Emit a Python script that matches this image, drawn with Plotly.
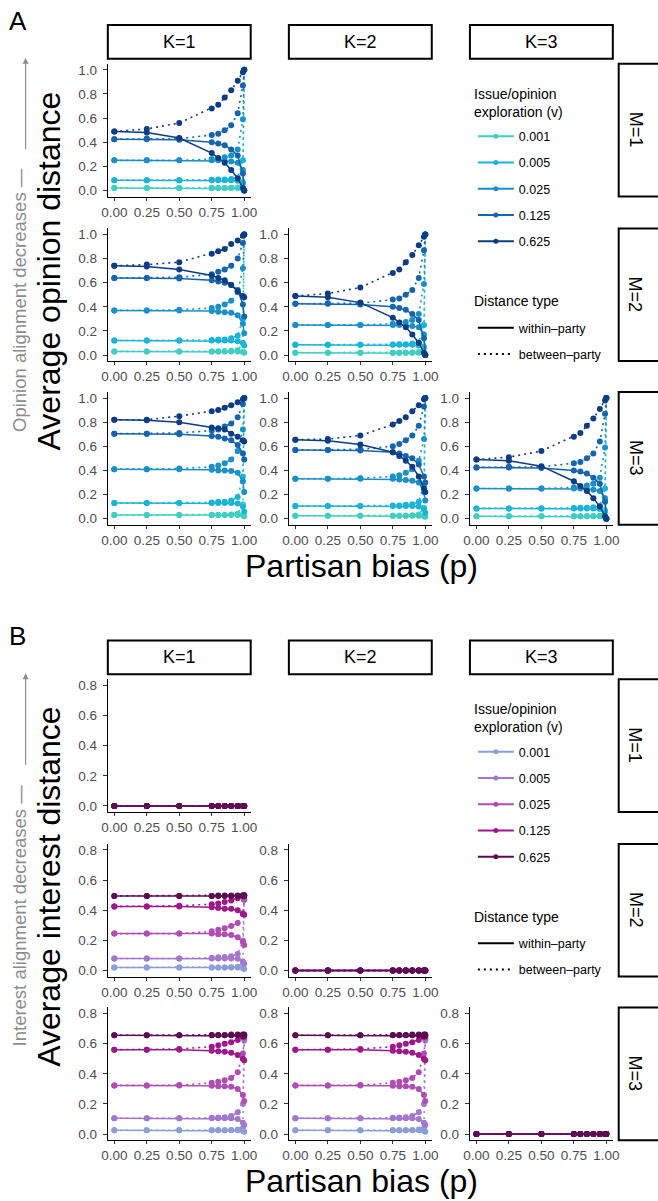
import plotly.graph_objects as go

W, H = 658, 1201

# ---------------- data ----------------
P = [0, 0.25, 0.5, 0.75, 0.8, 0.85, 0.9, 0.95, 0.99, 1.0]
V_LABELS = ["0.001", "0.005", "0.025", "0.125", "0.625"]
COLORS_A = ["#3FCFC2", "#19B5D9", "#1A90C8", "#1564AE", "#0B3C84"]
COLORS_B = ["#8C9ED6", "#A277CD", "#B04DB2", "#A0168C", "#5C0C50"]
X_TICKS = [0, 0.25, 0.5, 0.75, 1.0]
X_TICKTEXT = ["0.00", "0.25", "0.50", "0.75", "1.00"]
Y_TICKS_A = [0, 0.2, 0.4, 0.6, 0.8, 1.0]
Y_TICKTEXT_A = ["0.0", "0.2", "0.4", "0.6", "0.8", "1.0"]
Y_TICKS_B = [0, 0.2, 0.4, 0.6, 0.8]
Y_TICKTEXT_B = ["0.0", "0.2", "0.4", "0.6", "0.8"]

# Panel A: average opinion distance (rows: v = 0.001 ... 0.625)
A_K1M1_within = [
    [0.02, 0.02, 0.02, 0.02, 0.02, 0.02, 0.02, 0.02, 0.015, 0.0],
    [0.085, 0.085, 0.085, 0.085, 0.085, 0.085, 0.085, 0.08, 0.06, 0.0],
    [0.25, 0.25, 0.25, 0.25, 0.25, 0.245, 0.24, 0.23, 0.17, 0.0],
    [0.425, 0.425, 0.42, 0.40, 0.39, 0.375, 0.34, 0.29, 0.14, 0.0],
    [0.49, 0.48, 0.435, 0.31, 0.27, 0.23, 0.17, 0.10, 0.02, 0.0],
]
A_K1M1_between = [
    [0.02, 0.02, 0.02, 0.02, 0.02, 0.02, 0.022, 0.025, 0.07, 1.0],
    [0.085, 0.085, 0.085, 0.088, 0.09, 0.09, 0.095, 0.105, 0.25, 1.0],
    [0.25, 0.25, 0.25, 0.26, 0.265, 0.275, 0.29, 0.34, 0.59, 1.0],
    [0.425, 0.43, 0.43, 0.46, 0.47, 0.50, 0.54, 0.64, 0.87, 1.0],
    [0.49, 0.51, 0.56, 0.68, 0.71, 0.77, 0.83, 0.91, 0.98, 1.0],
]
A_K2M2_within = A_K1M1_within
A_K2M2_between = A_K1M1_between
A_K3M3_within = A_K1M1_within
A_K3M3_between = A_K1M1_between

A_K1M2_within = [
    [0.03, 0.03, 0.03, 0.03, 0.03, 0.03, 0.03, 0.03, 0.025, 0.02],
    [0.12, 0.12, 0.12, 0.12, 0.12, 0.12, 0.12, 0.115, 0.10, 0.08],
    [0.37, 0.37, 0.37, 0.365, 0.36, 0.355, 0.35, 0.33, 0.26, 0.18],
    [0.64, 0.64, 0.635, 0.62, 0.61, 0.60, 0.58, 0.54, 0.42, 0.32],
    [0.74, 0.735, 0.71, 0.66, 0.64, 0.62, 0.58, 0.53, 0.49, 0.48],
]
A_K1M2_between = [
    [0.03, 0.03, 0.03, 0.03, 0.03, 0.032, 0.035, 0.04, 0.10, 1.0],
    [0.12, 0.12, 0.12, 0.125, 0.13, 0.13, 0.14, 0.16, 0.30, 1.0],
    [0.37, 0.37, 0.375, 0.39, 0.40, 0.42, 0.45, 0.52, 0.72, 1.0],
    [0.64, 0.64, 0.645, 0.67, 0.69, 0.71, 0.74, 0.80, 0.93, 1.0],
    [0.74, 0.75, 0.77, 0.84, 0.86, 0.88, 0.92, 0.95, 0.99, 1.0],
]

A_K1M3_within = [
    [0.03, 0.03, 0.03, 0.03, 0.03, 0.03, 0.03, 0.03, 0.03, 0.02],
    [0.13, 0.13, 0.13, 0.13, 0.13, 0.13, 0.13, 0.125, 0.10, 0.06],
    [0.41, 0.41, 0.41, 0.405, 0.40, 0.40, 0.395, 0.38, 0.31, 0.22],
    [0.705, 0.705, 0.70, 0.685, 0.68, 0.665, 0.65, 0.61, 0.54, 0.49],
    [0.82, 0.815, 0.80, 0.755, 0.75, 0.74, 0.705, 0.68, 0.65, 0.64],
]
A_K1M3_between = [
    [0.03, 0.03, 0.03, 0.03, 0.03, 0.03, 0.035, 0.04, 0.12, 1.0],
    [0.13, 0.13, 0.13, 0.135, 0.14, 0.14, 0.15, 0.18, 0.35, 1.0],
    [0.41, 0.41, 0.415, 0.43, 0.44, 0.46, 0.49, 0.56, 0.74, 1.0],
    [0.705, 0.705, 0.71, 0.73, 0.74, 0.765, 0.79, 0.84, 0.95, 1.0],
    [0.82, 0.82, 0.85, 0.89, 0.90, 0.92, 0.94, 0.965, 0.99, 1.0],
]

A_K2M3_within = [
    [0.025, 0.025, 0.025, 0.025, 0.025, 0.025, 0.025, 0.025, 0.02, 0.015],
    [0.105, 0.105, 0.105, 0.105, 0.105, 0.105, 0.105, 0.10, 0.08, 0.05],
    [0.33, 0.33, 0.33, 0.33, 0.325, 0.32, 0.315, 0.30, 0.22, 0.15],
    [0.57, 0.57, 0.565, 0.55, 0.54, 0.52, 0.50, 0.45, 0.35, 0.30],
    [0.655, 0.645, 0.615, 0.55, 0.52, 0.48, 0.43, 0.35, 0.25, 0.22],
]
A_K2M3_between = [
    [0.025, 0.025, 0.025, 0.025, 0.025, 0.025, 0.028, 0.035, 0.09, 1.0],
    [0.105, 0.105, 0.105, 0.11, 0.11, 0.115, 0.12, 0.14, 0.28, 1.0],
    [0.33, 0.33, 0.335, 0.35, 0.36, 0.38, 0.41, 0.48, 0.66, 1.0],
    [0.57, 0.57, 0.575, 0.60, 0.62, 0.65, 0.69, 0.77, 0.93, 1.0],
    [0.655, 0.66, 0.69, 0.78, 0.81, 0.84, 0.89, 0.94, 0.99, 1.0],
]

# Panel B: average interest distance
ZERO = [0, 0, 0, 0, 0, 0, 0, 0, 0, 0]
B_K1M1_within = [ZERO, ZERO, ZERO, ZERO, ZERO]
B_K1M1_between = [ZERO, ZERO, ZERO, ZERO, ZERO]
B_K2M2_within = [ZERO, ZERO, ZERO, ZERO, ZERO]
B_K2M2_between = [ZERO, ZERO, ZERO, ZERO, ZERO]
B_K3M3_within = [ZERO, ZERO, ZERO, ZERO, ZERO]
B_K3M3_between = [ZERO, ZERO, ZERO, ZERO, ZERO]

B_K1M2_within = [
    [0.02, 0.02, 0.02, 0.02, 0.02, 0.02, 0.02, 0.02, 0.015, 0.01],
    [0.08, 0.08, 0.08, 0.08, 0.08, 0.08, 0.08, 0.078, 0.06, 0.045],
    [0.245, 0.245, 0.245, 0.245, 0.24, 0.24, 0.235, 0.22, 0.19, 0.17],
    [0.425, 0.425, 0.425, 0.42, 0.415, 0.41, 0.41, 0.40, 0.375, 0.37],
    [0.495, 0.495, 0.495, 0.495, 0.495, 0.495, 0.495, 0.495, 0.495, 0.495],
]
B_K1M2_between = [
    [0.02, 0.02, 0.02, 0.02, 0.02, 0.02, 0.022, 0.025, 0.05, 0.47],
    [0.08, 0.08, 0.08, 0.085, 0.088, 0.09, 0.095, 0.11, 0.20, 0.48],
    [0.245, 0.245, 0.245, 0.26, 0.27, 0.28, 0.295, 0.315, 0.38, 0.47],
    [0.425, 0.425, 0.43, 0.44, 0.445, 0.455, 0.465, 0.48, 0.495, 0.50],
    [0.495, 0.495, 0.495, 0.495, 0.497, 0.497, 0.498, 0.498, 0.50, 0.50],
]

B_K1M3_within = [
    [0.025, 0.025, 0.025, 0.025, 0.025, 0.025, 0.025, 0.025, 0.02, 0.015],
    [0.105, 0.105, 0.105, 0.105, 0.105, 0.105, 0.105, 0.10, 0.075, 0.06],
    [0.323, 0.323, 0.323, 0.32, 0.318, 0.318, 0.315, 0.30, 0.26, 0.22],
    [0.56, 0.56, 0.56, 0.553, 0.55, 0.546, 0.54, 0.524, 0.50, 0.49],
    [0.655, 0.655, 0.655, 0.655, 0.655, 0.655, 0.655, 0.655, 0.65, 0.65],
]
B_K1M3_between = [
    [0.025, 0.025, 0.025, 0.025, 0.025, 0.025, 0.027, 0.03, 0.04, 0.62],
    [0.105, 0.105, 0.105, 0.108, 0.11, 0.112, 0.12, 0.145, 0.20, 0.63],
    [0.323, 0.323, 0.325, 0.34, 0.347, 0.358, 0.373, 0.41, 0.535, 0.64],
    [0.56, 0.56, 0.565, 0.58, 0.59, 0.60, 0.61, 0.625, 0.645, 0.655],
    [0.655, 0.655, 0.656, 0.657, 0.658, 0.658, 0.66, 0.66, 0.66, 0.66],
]
B_K2M3_within = B_K1M3_within
B_K2M3_between = B_K1M3_between

# ---------------- layout geometry (pixels) ----------------
COLS = [(103, 249), (288, 434), (473, 619)]
ROWS_A = [(63, 196), (228, 361), (392, 525)]
OFF_B = 617
ROWS_B = [(y0 + OFF_B, y1 + OFF_B) for (y0, y1) in ROWS_A]


def fx(px):
    return px / W


def fy(py):
    return 1 - py / H


FONT = "Liberation Sans, Arial, Helvetica, sans-serif"
TICKFONT = dict(family=FONT, size=13.5, color="#4D4D4D")

fig = go.Figure()
layout = dict(
    width=W, height=H, margin=dict(l=0, r=0, t=0, b=0),
    paper_bgcolor="white", plot_bgcolor="white",
    font=dict(family=FONT, color="black"),
)

panels = [
    ("A", 1, 1, A_K1M1_within, A_K1M1_between),
    ("A", 1, 2, A_K1M2_within, A_K1M2_between),
    ("A", 2, 2, A_K2M2_within, A_K2M2_between),
    ("A", 1, 3, A_K1M3_within, A_K1M3_between),
    ("A", 2, 3, A_K2M3_within, A_K2M3_between),
    ("A", 3, 3, A_K3M3_within, A_K3M3_between),
    ("B", 1, 1, B_K1M1_within, B_K1M1_between),
    ("B", 1, 2, B_K1M2_within, B_K1M2_between),
    ("B", 2, 2, B_K2M2_within, B_K2M2_between),
    ("B", 1, 3, B_K1M3_within, B_K1M3_between),
    ("B", 2, 3, B_K2M3_within, B_K2M3_between),
    ("B", 3, 3, B_K3M3_within, B_K3M3_between),
]

for idx, (part, K, M, within, between) in enumerate(panels, start=1):
    sfx = "" if idx == 1 else str(idx)
    cx0, cx1 = COLS[K - 1]
    ry0, ry1 = (ROWS_A if part == "A" else ROWS_B)[M - 1]
    layout["xaxis" + sfx] = dict(
        domain=[fx(cx0), fx(cx1)], anchor="y" + sfx, range=[-0.05, 1.05],
        tickvals=X_TICKS, ticktext=X_TICKTEXT, showline=True, linecolor="black",
        linewidth=1.3, ticks="outside", ticklen=3, tickwidth=1, tickcolor="#333333",
        tickfont=TICKFONT, showgrid=False, zeroline=False, fixedrange=True,
        ticklabelstandoff=0,
    )
    if part == "A":
        yr, yt, ytt = [-0.05, 1.05], Y_TICKS_A, Y_TICKTEXT_A
    else:
        yr, yt, ytt = [-0.04, 0.84], Y_TICKS_B, Y_TICKTEXT_B
    layout["yaxis" + sfx] = dict(
        domain=[fy(ry1), fy(ry0)], anchor="x" + sfx, range=yr,
        tickvals=yt, ticktext=ytt, showline=True, linecolor="black",
        linewidth=1.3, ticks="outside", ticklen=4, tickwidth=1, tickcolor="#333333",
        tickfont=TICKFONT, showgrid=False, zeroline=False, fixedrange=True,
        ticklabelstandoff=3,
    )
    colors = COLORS_A if part == "A" else COLORS_B
    for i in range(5):
        c = colors[i]
        fig.add_trace(go.Scatter(
            x=P, y=between[i], mode="lines+markers", xaxis="x" + sfx, yaxis="y" + sfx,
            line=dict(color=c, width=1.6, dash="2px,4px"),
            marker=dict(color=c, size=6), showlegend=False, hoverinfo="skip",
        ))
        fig.add_trace(go.Scatter(
            x=P, y=within[i], mode="lines+markers", xaxis="x" + sfx, yaxis="y" + sfx,
            line=dict(color=c, width=1.5), marker=dict(color=c, size=6),
            showlegend=False, hoverinfo="skip",
        ))

# ---------------- legends ----------------
for part, colors, lg_v, lg_d in [("A", COLORS_A, "legend", "legend2"),
                                 ("B", COLORS_B, "legend3", "legend4")]:
    for i, lab in enumerate(V_LABELS):
        fig.add_trace(go.Scatter(
            x=[None], y=[None], mode="lines+markers", name=lab, legend=lg_v,
            legendgroup=f"{part}v{i}", line=dict(color=colors[i], width=2),
            marker=dict(color=colors[i], size=5), xaxis="x", yaxis="y",
        ))
    fig.add_trace(go.Scatter(
        x=[None], y=[None], mode="lines", name="within\u2013party", legend=lg_d,
        legendgroup=f"{part}d0", line=dict(color="black", width=2), xaxis="x", yaxis="y",
    ))
    fig.add_trace(go.Scatter(
        x=[None], y=[None], mode="lines", name="between\u2013party", legend=lg_d,
        legendgroup=f"{part}d1", line=dict(color="black", width=2, dash="2px,4px"),
        xaxis="x", yaxis="y",
    ))

for key, top in [("legend", 121), ("legend2", 313),
                 ("legend3", 121 + OFF_B), ("legend4", 313 + OFF_B)]:
    layout[key] = dict(
        x=fx(476), y=fy(top), xanchor="left", yanchor="top",
        font=dict(family=FONT, size=12.5, color="black"),
        bgcolor="rgba(0,0,0,0)", tracegroupgap=7, itemwidth=36,
    )

# ---------------- strips & labels ----------------
shapes = []
annotations = []
for off, rows in [(0, ROWS_A), (OFF_B, ROWS_B)]:
    for k, (x0, x1) in enumerate(COLS):
        shapes.append(dict(type="rect", xref="paper", yref="paper",
                           x0=fx(x0), x1=fx(x1), y0=fy(58 + off), y1=fy(24 + off),
                           line=dict(color="black", width=2), fillcolor="white"))
        annotations.append(dict(text=f"K={k + 1}", xref="paper", yref="paper",
                                x=fx((x0 + x1) / 2), y=fy(41 + off), showarrow=False,
                                font=dict(family=FONT, size=18, color="black"),
                                xanchor="center", yanchor="middle"))
    for m, (y0, y1) in enumerate(rows):
        shapes.append(dict(type="rect", xref="paper", yref="paper",
                           x0=fx(625), x1=fx(700), y0=fy(y1), y1=fy(y0),
                           line=dict(color="black", width=2), fillcolor="white"))
        annotations.append(dict(text=f"M={m + 1}", xref="paper", yref="paper",
                                x=fx(642), y=fy((y0 + y1) / 2), showarrow=False,
                                textangle=90,
                                font=dict(family=FONT, size=18, color="black"),
                                xanchor="center", yanchor="middle"))
    # legend titles
    for txt, yy in [("Issue/opinion", 93), ("exploration (v)", 111), ("Distance type", 301)]:
        annotations.append(dict(text=txt, xref="paper", yref="paper", x=fx(475),
                                y=fy(yy + off), showarrow=False, xanchor="left",
                                yanchor="middle",
                                font=dict(family=FONT, size=14, color="black")))

for off, letter, ytitle, gtitle in [(0, "A", "Average opinion distance", "Opinion alignment decreases"),
                                    (OFF_B, "B", "Average interest distance", "Interest alignment decreases")]:
    annotations.append(dict(text=letter, xref="paper", yref="paper", x=fx(11), y=fy(20 + off),
                            showarrow=False, font=dict(family=FONT, size=26, color="black"),
                            xanchor="center", yanchor="middle"))
    annotations.append(dict(text=ytitle, xref="paper", yref="paper", x=fx(43), y=fy(271 + off),
                            showarrow=False, textangle=-90,
                            font=dict(family=FONT, size=32, color="black"),
                            xanchor="center", yanchor="middle"))
    annotations.append(dict(text="Partisan bias (p)", xref="paper", yref="paper",
                            x=fx(362), y=fy(566 + off), showarrow=False,
                            font=dict(family=FONT, size=32, color="black"),
                            xanchor="center", yanchor="middle"))
    annotations.append(dict(text=gtitle + " \u2014", xref="paper", yref="paper",
                            x=fx(13), y=fy(300 + off), showarrow=False, textangle=-90,
                            font=dict(family=FONT, size=18.5, color="#8C8C8C"),
                            xanchor="center", yanchor="middle"))
    annotations.append(dict(text="", xref="paper", yref="paper", x=fx(19), y=fy(57 + off),
                            showarrow=True, ax=0, ay=93, arrowhead=2, arrowsize=1,
                            arrowwidth=1.2, arrowcolor="#8C8C8C"))

layout["shapes"] = shapes
layout["annotations"] = annotations
fig.update_layout(**layout)
fig.write_html("out.html", config={"displayModeBar": False},
               post_script="document.body.style.margin='0px';document.body.style.padding='0px';")
